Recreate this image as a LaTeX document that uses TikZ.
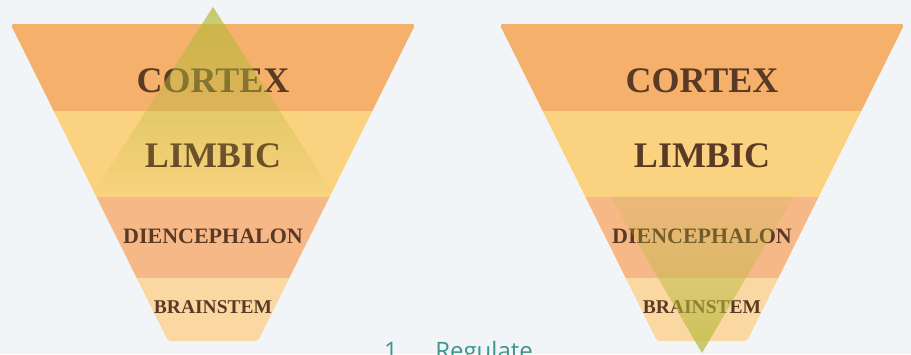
\documentclass[tikz,border=0pt]{standalone}
\usepackage{fontspec}
\usetikzlibrary{fadings}
\setmainfont{Liberation Serif}
\newfontfamily\labelsans{Open Sans}
\definecolor{bgc}{RGB}{241,245,247}
\definecolor{cortexc}{RGB}{245,176,107}
\definecolor{limbicc}{RGB}{251,211,128}
\definecolor{dienc}{RGB}{246,184,134}
\definecolor{brainc}{RGB}{251,216,162}
\definecolor{txtc}{RGB}{90,58,37}
\definecolor{tric}{RGB}{185,185,60}
\definecolor{tealc}{RGB}{60,150,140}
\tikzfading[name=fadedown, top color=transparent!25, bottom color=transparent!96]
\tikzfading[name=fadeup, top color=transparent!88, bottom color=transparent!25]
\begin{document}
\begin{tikzpicture}[x=1pt,y=-1pt,
  lbl/.style={text=txtc,font=\bfseries,inner sep=0pt,anchor=base},
  big/.style={lbl,font=\fontsize{36}{36}\selectfont\bfseries},
  mid/.style={lbl,font=\fontsize{22}{22}\selectfont\bfseries},
  small/.style={lbl,font=\fontsize{19.5}{19.5}\selectfont\bfseries},
  tri/.style={fill=tric,draw=none}]
\useasboundingbox (0,0) rectangle (911,354);
\clip (0,0) rectangle (911,354);
\fill[bgc] (0,0) rectangle (911,354);
% funnels
\foreach \cx/\nm in {213/L,702/R}{
  \begin{scope}
    \clip[rounded corners=3pt] (\cx-202.5,24) -- (\cx+202.5,24) -- (\cx+45,341) -- (\cx-45,341) -- cycle;
    \fill[cortexc] (\cx-210,20) rectangle (\cx+210,111);
    \fill[limbicc] (\cx-210,111) rectangle (\cx+210,197);
    \fill[dienc] (\cx-210,197) rectangle (\cx+210,278);
    \fill[brainc] (\cx-210,278) rectangle (\cx+210,345);
  \end{scope}
  \node[big] (cortex\nm) at (\cx,92) {CORTEX};
  \node[big] (limbic\nm) at (\cx,167) {LIMBIC};
  \node[mid] (dien\nm) at (\cx,243) {DIENCEPHALON};
  \node[small] (brain\nm) at (\cx,313) {BRAINSTEM};
}
% overlay triangles
\fill[tri,path fading=fadedown] (213,7) -- (332,192) -- (94,192) -- cycle;
\fill[tri,path fading=fadeup] (610,196) -- (794,196) -- (702,353) -- cycle;
% bottom caption
\node[text=tealc,font=\labelsans\fontsize{24}{24}\selectfont,anchor=base west,inner sep=0pt] (cap) at (384,359) {1.\hspace{31pt}Regulate};
\end{tikzpicture}
\end{document}
